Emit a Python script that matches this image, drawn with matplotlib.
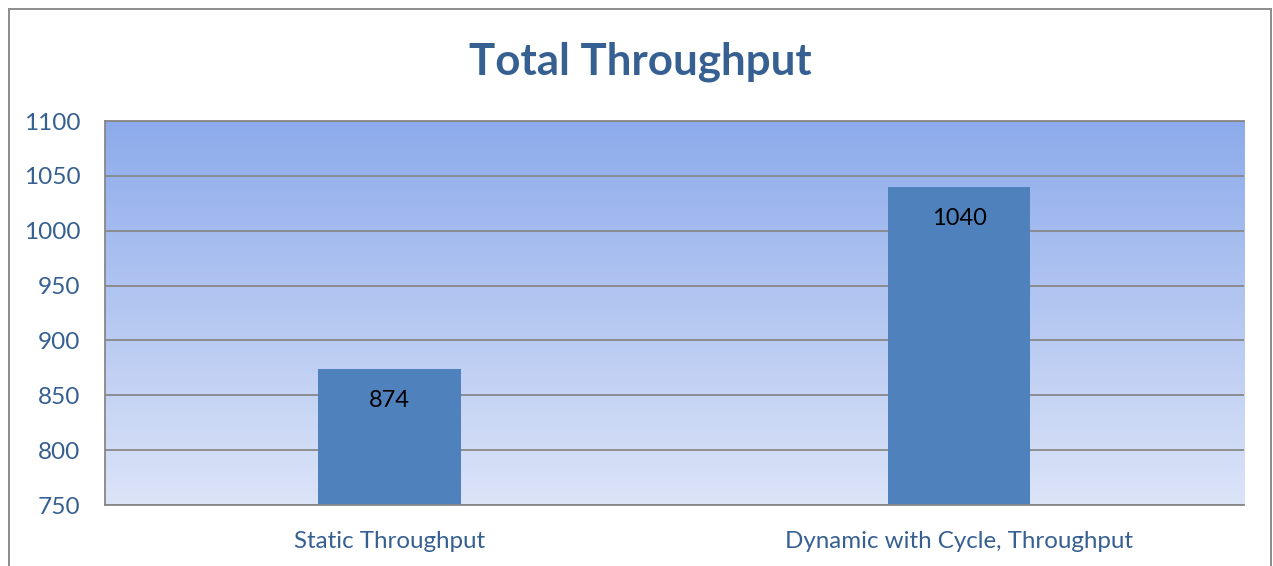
import numpy as np
import matplotlib
matplotlib.use("Agg")
import matplotlib.pyplot as plt
from matplotlib.patches import Rectangle
from matplotlib.colors import LinearSegmentedColormap

# Data
categories = ["Static Throughput", "Dynamic with Cycle, Throughput"]
throughput = [874, 1040]
y_ticks = [750, 800, 850, 900, 950, 1000, 1050, 1100]
title = "Total Throughput"

W, H, DPI = 1273, 566, 100
TEXT_BLUE = "#376092"
GRID_GRAY = "#878787"
BAR_BLUE = "#4F81BD"

plt.rcParams["font.family"] = ["Lato", "DejaVu Sans"]

fig = plt.figure(figsize=(W / DPI, H / DPI), dpi=DPI)
fig.patch.set_facecolor("white")

# Outer chart frame (open at the bottom edge)
fig.patches.append(Rectangle((8.5, -20), 1262.5, H - 8.5 + 20, transform=None,
                             fill=False, edgecolor="#8c8c8c", linewidth=1.4))

ax = fig.add_axes([104.5 / W, (H - 505) / H, (1244 - 104.5) / W, (505 - 121) / H])

x = np.arange(len(categories))
ax.set_xlim(-0.5, len(categories) - 0.5)
ax.set_ylim(y_ticks[0], y_ticks[-1])

# Vertical gradient plot background
cmap = LinearSegmentedColormap.from_list("bg", ["#DCE4F8", "#8DABEB"])
grad = np.linspace(0, 1, 256).reshape(-1, 1)
ax.imshow(grad, cmap=cmap, aspect="auto", origin="lower",
          extent=(-0.5, len(categories) - 0.5, y_ticks[0], y_ticks[-1]), zorder=0)

bars = ax.bar(x, throughput, width=0.25, color=BAR_BLUE, zorder=2)
for b, v in zip(bars, throughput):
    ax.annotate(f"{v}", (b.get_x() + b.get_width() / 2, v), xytext=(0, -22.5),
                textcoords="offset points", ha="center", va="center",
                fontsize=17, color="black", zorder=3)

ax.set_axisbelow(True)
ax.set_yticks(y_ticks)
ax.grid(axis="y", color=GRID_GRAY, linewidth=1.3)
ax.set_xticks(x)
ax.set_xticklabels(categories)
ax.tick_params(axis="y", length=0, pad=17.5, labelsize=17.6, labelcolor=TEXT_BLUE)
ax.tick_params(axis="x", length=0, pad=18.5, labelsize=17.4, labelcolor=TEXT_BLUE)

for side in ("left", "top", "bottom"):
    ax.spines[side].set_color(GRID_GRAY)
    ax.spines[side].set_linewidth(1.3)
ax.spines["right"].set_visible(False)

fig.text(640.5 / W, 1 - 74 / H, title, ha="center", va="baseline",
         fontsize=31.6, fontweight="bold", color=TEXT_BLUE)

fig.savefig("out.png", dpi=DPI)
